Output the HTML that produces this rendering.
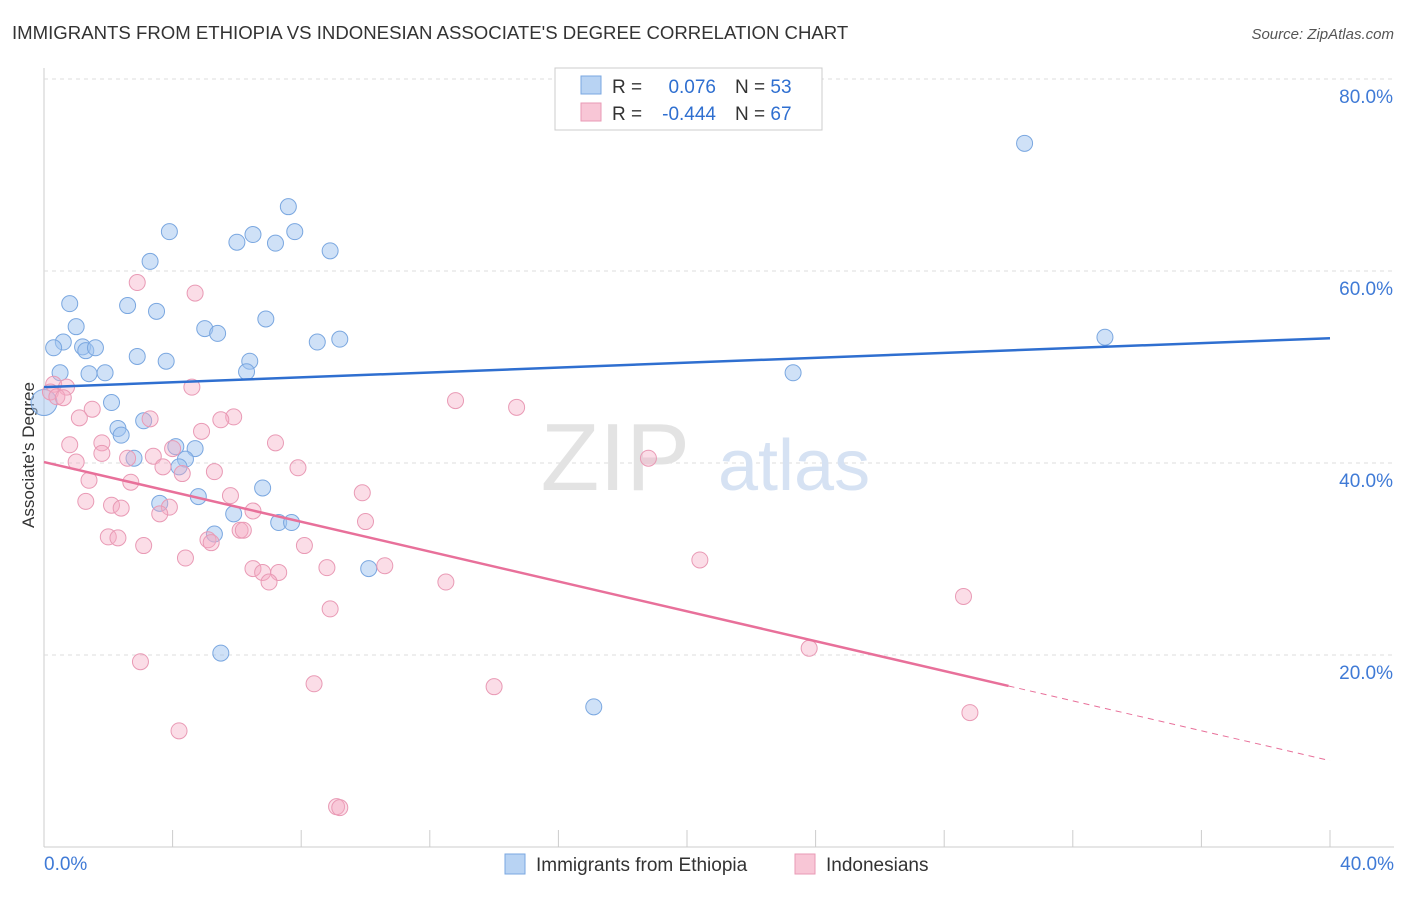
<!DOCTYPE html>
<html><head><meta charset="utf-8"><style>
body{margin:0;background:#fff;font-family:"Liberation Sans",sans-serif}
svg text{font-family:"Liberation Sans",sans-serif}
</style></head><body>
<svg id="chart" width="1406" height="892">
<text x="12" y="39" font-size="18.6" fill="#333">IMMIGRANTS FROM ETHIOPIA VS INDONESIAN ASSOCIATE'S DEGREE CORRELATION CHART</text>
<text x="1394" y="39" font-size="15" fill="#555" text-anchor="end" font-style="italic">Source: ZipAtlas.com</text>
<g id="grid"></g>
<text x="690" y="490" font-size="96" fill="#e3e3e3" text-anchor="end" font-family="Liberation Serif">ZIP</text>
<text x="718" y="490" font-size="72" fill="#d6e2f3">atlas</text>
<text transform="translate(34,455) rotate(-90)" font-size="17" fill="#333" text-anchor="middle">Associate's Degree</text>
<g id="marks"></g>
<g>
<rect x="555" y="68" width="267" height="62" fill="#fff" stroke="#ccc"/>
<rect x="581" y="76" width="20" height="18" fill="#b8d3f3" stroke="#7aa7e0"/>
<rect x="581" y="103" width="20" height="18" fill="#f8c6d6" stroke="#e99ab5"/>
<text x="612" y="93" font-size="19" fill="#333">R =</text>
<text x="716" y="93" font-size="19" fill="#2f6fd0" text-anchor="end">0.076</text>
<text x="735" y="93" font-size="19" fill="#333">N = <tspan fill="#2f6fd0">53</tspan></text>
<text x="612" y="120" font-size="19" fill="#333">R =</text>
<text x="716" y="120" font-size="19" fill="#2f6fd0" text-anchor="end">-0.444</text>
<text x="735" y="120" font-size="19" fill="#333">N = <tspan fill="#2f6fd0">67</tspan></text>
</g>
<g>
<rect x="505" y="854" width="20" height="20" fill="#b8d3f3" stroke="#7aa7e0"/>
<text x="536" y="871" font-size="19" fill="#333">Immigrants from Ethiopia</text>
<rect x="795" y="854" width="20" height="20" fill="#f8c6d6" stroke="#e99ab5"/>
<text x="826" y="871" font-size="19" fill="#333">Indonesians</text>
</g>
</svg>
<script>
const yTicks=[20,40,60,80];
const yTickLabels=["20.0%","40.0%","60.0%","80.0%"];
const xLabels=["0.0%","40.0%"];
const blueX=[30.5,33.0,23.3,7.6,7.8,6.5,6.0,7.2,3.9,8.9,3.3,0.8,2.6,3.5,6.9,1.0,5.0,5.4,9.2,8.5,0.6,0.3,1.2,1.3,1.6,2.9,3.8,6.4,6.3,0.5,1.4,1.9,0,2.1,2.3,3.1,2.4,4.1,4.7,2.8,4.4,4.2,4.8,6.8,3.6,5.9,5.3,7.3,7.7,10.1,5.5,17.1];
const blueY=[73.3,53.1,49.4,66.7,64.1,63.8,63.0,62.9,64.1,62.1,61.0,56.6,56.4,55.8,55.0,54.2,54.0,53.5,52.9,52.6,52.6,52.0,52.1,51.7,52.0,51.1,50.6,50.6,49.5,49.4,49.3,49.4,46.3,46.3,43.6,44.4,42.9,41.7,41.5,40.5,40.4,39.6,36.5,37.4,35.8,34.7,32.6,33.8,33.8,29.0,20.2,14.6];
const pinkX=[2.9,4.7,0.3,0.7,0.2,0.4,0.6,4.6,12.8,14.7,1.5,1.1,3.3,5.9,5.5,4.9,0.8,1.8,7.2,4.0,1.8,2.6,3.4,18.8,1.0,3.7,7.9,4.3,5.3,1.4,2.7,9.9,5.8,1.3,2.1,2.4,3.9,3.6,6.5,10.0,6.1,6.2,2.0,2.3,5.1,5.2,3.1,8.1,4.4,20.4,10.6,8.8,6.5,6.8,7.3,7.0,12.5,28.6,8.9,23.8,3.0,8.4,14.0,28.8,4.2,9.1,9.2];
const pinkY=[58.8,57.7,48.2,47.9,47.4,46.9,46.8,47.9,46.5,45.8,45.6,44.7,44.6,44.8,44.5,43.3,41.9,42.1,42.1,41.5,41.0,40.5,40.7,40.5,40.1,39.6,39.5,38.9,39.1,38.2,38.0,36.9,36.6,36.0,35.6,35.3,35.4,34.7,35.0,33.9,33.0,33.0,32.3,32.2,32.0,31.7,31.4,31.4,30.1,29.9,29.3,29.1,29.0,28.6,28.6,27.6,27.6,26.1,24.8,20.7,19.3,17.0,16.7,14.0,12.1,4.2,4.1];
const blueLine=[47.9,53.0];
const pinkLine=[40.1,9.0];
const pinkSolidEnd=30.0;
const NS="http://www.w3.org/2000/svg";
const sx=v=>44+v/40*1286, sy=v=>847-v*9.6;
const grid=document.getElementById('grid');
const marks=document.getElementById('marks');
function mk(tag,at,parent){const e=document.createElementNS(NS,tag);for(const k in at)e.setAttribute(k,at[k]);parent.appendChild(e);return e;}
let ax=mk('line',{x1:44,y1:68,x2:44,y2:847,stroke:'#ccc'},grid);


let bx=mk('line',{x1:44,y1:847,x2:1394,y2:847,stroke:'#ccc'},grid);


for(let i=1;i<=10;i++){const t=mk('line',{x1:44+i*128.6,y1:830,x2:44+i*128.6,y2:847,stroke:'#ccc'},grid);

}
yTicks.forEach((v,i)=>{
 const g=mk('line',{x1:44,y1:sy(v),x2:1394,y2:sy(v),stroke:'#ddd','stroke-dasharray':'4,4'},grid);
 
 
 const t=mk('text',{x:1393,y:sy(v)+24,'font-size':19,fill:'#3f7ad6','text-anchor':'end'},grid);t.textContent=yTickLabels[i];
 
 
});
const xl0=mk('text',{x:44,y:870,'font-size':19,fill:'#3f7ad6'},grid);xl0.textContent=xLabels[0];


const xl1=mk('text',{x:1394,y:870,'font-size':19,fill:'#3f7ad6','text-anchor':'end'},grid);xl1.textContent=xLabels[1];


blueX.forEach((x,i)=>{const c=mk('circle',{cx:sx(x),cy:sy(blueY[i]),r:i==32?13:8,fill:'rgba(160,196,240,0.5)',stroke:'#7aa7e0','stroke-width':1},marks);

});
pinkX.forEach((x,i)=>{const c=mk('circle',{cx:sx(x),cy:sy(pinkY[i]),r:8,fill:'rgba(244,170,195,0.4)',stroke:'#e99ab5','stroke-width':1},marks);

});
const bl=mk('line',{x1:sx(0),y1:sy(blueLine[0]),x2:sx(40),y2:sy(blueLine[1]),stroke:'#2f6fd0','stroke-width':2.5},marks);


const py=v=>pinkLine[0]+(pinkLine[1]-pinkLine[0])*v/40;
const pl=mk('line',{x1:sx(0),y1:sy(py(0)),x2:sx(pinkSolidEnd),y2:sy(py(pinkSolidEnd)),stroke:'#e8709a','stroke-width':2.5},marks);


const pd=mk('line',{x1:sx(pinkSolidEnd),y1:sy(py(pinkSolidEnd)),x2:sx(40),y2:sy(py(40)),stroke:'#e8709a','stroke-width':1,'stroke-dasharray':'6,5'},marks);


</script>
</body></html>
